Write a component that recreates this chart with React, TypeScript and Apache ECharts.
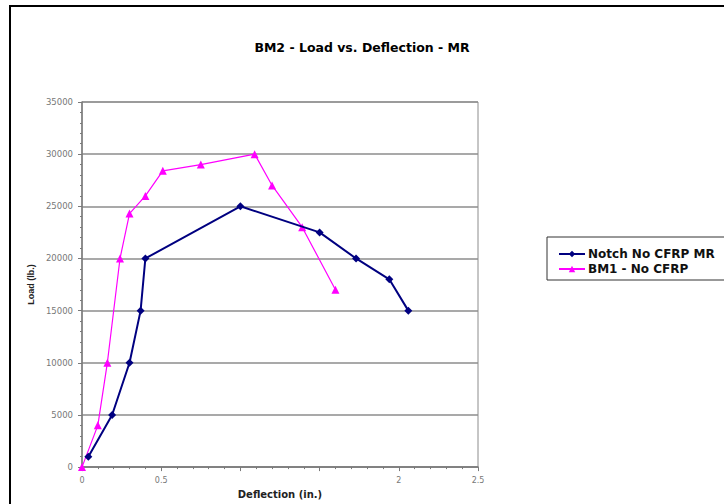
import React, { useEffect, useRef } from "react";
import * as echarts from "echarts";

const seriesNames = ["Notch No CFRP MR", "BM1 - No CFRP"];

// Notch No CFRP MR: deflection (in.), load (lb.)
const notchDeflection = [0.04, 0.19, 0.3, 0.37, 0.4, 1.0, 1.5, 1.73, 1.94, 2.06];
const notchLoad = [1000, 5000, 10000, 15000, 20000, 25000, 22500, 20000, 18000, 15000];

// BM1 - No CFRP
const bm1Deflection = [0, 0.1, 0.16, 0.24, 0.3, 0.4, 0.51, 0.75, 1.09, 1.2, 1.39, 1.6];
const bm1Load = [0, 4000, 10000, 20000, 24300, 26000, 28400, 29000, 30000, 27000, 23000, 17000];

const hiddenXLabels = [1, 1.5];

const FONT = "'DejaVu Sans', 'Liberation Sans', Arial, sans-serif";
const FONT_ARIAL = "'Liberation Sans', Arial, sans-serif";

export default function App() {
  const ref = useRef<HTMLDivElement>(null);

  useEffect(() => {
    if (!ref.current) return;
    const chart = echarts.init(ref.current, undefined, { renderer: "svg" });
    const pair = (xs: number[], ys: number[]) => xs.map((x, i) => [x, ys[i]]);
    chart.setOption({
      animation: false,
      backgroundColor: "#ffffff",
      title: {
        text: "BM2 - Load vs. Deflection - MR",
        left: "center",
        top: 36,
        textStyle: { fontFamily: FONT, fontWeight: "bold", fontSize: 12.5, color: "#000" },
      },
      grid: {
        left: 82,
        right: 246,
        top: 102,
        bottom: 29,
        show: true,
        borderColor: "#8c8c8c",
        borderWidth: 1,
      },
      xAxis: {
        type: "value",
        min: 0,
        max: 2.5,
        interval: 0.5,
        name: "Deflection (in.)",
        nameLocation: "middle",
        nameGap: 10,
        nameTextStyle: { fontFamily: FONT, fontWeight: "bold", fontSize: 10, color: "#222" },
        axisLine: { show: true, lineStyle: { color: "#7a7a7a", width: 1.5 } },
        axisTick: { show: true, inside: false, length: 4, lineStyle: { color: "#7a7a7a" } },
        minorTick: { show: true, splitNumber: 5, length: 2, lineStyle: { color: "#7a7a7a" } },
        splitLine: { show: false },
        axisLabel: {
          fontFamily: FONT,
          fontSize: 8,
          color: "#777",
          margin: 9,
          formatter: (v: number) => (hiddenXLabels.includes(v) ? "" : String(v)),
        },
      },
      yAxis: {
        type: "value",
        min: 0,
        max: 35000,
        interval: 5000,
        name: "Load (lb.)",
        nameLocation: "middle",
        nameGap: 44,
        nameTextStyle: { fontFamily: FONT_ARIAL, fontWeight: "bold", fontSize: 9, color: "#222" },
        axisLine: { show: true, lineStyle: { color: "#7a7a7a", width: 1.5 } },
        axisTick: { show: true, inside: false, length: 4, lineStyle: { color: "#7a7a7a" } },
        minorTick: { show: true, splitNumber: 5, length: 2, lineStyle: { color: "#7a7a7a" } },
        splitLine: { show: true, lineStyle: { color: "#8c8c8c", width: 1.5 } },
        axisLabel: {
          fontFamily: FONT,
          fontSize: 8.5,
          color: "#777",
          margin: 9,
          formatter: (v: number) => String(v),
        },
      },
      legend: {
        orient: "vertical",
        left: 553,
        top: 243,
        itemGap: 3,
        itemWidth: 26,
        itemHeight: 8,
        data: seriesNames,
        textStyle: { fontFamily: FONT, fontWeight: "bold", fontSize: 12, color: "#111", padding: [0, 0, 0, -2] },
      },
      graphic: [
        {
          type: "rect",
          shape: { x: 10, y: 6, width: 800, height: 600 },
          style: { fill: "none", stroke: "#000", lineWidth: 2 },
          silent: true,
        },
        {
          type: "rect",
          shape: { x: 547, y: 237, width: 200, height: 43 },
          style: { fill: "none", stroke: "#333", lineWidth: 1 },
          silent: true,
        },
      ],
      series: [
        {
          name: seriesNames[0],
          type: "line",
          data: pair(notchDeflection, notchLoad),
          symbol: "diamond",
          symbolSize: 8,
          color: "#000080",
          lineStyle: { color: "#000080", width: 2 },
          itemStyle: { color: "#000080" },
          z: 3,
        },
        {
          name: seriesNames[1],
          type: "line",
          data: pair(bm1Deflection, bm1Load),
          symbol: "triangle",
          symbolSize: 8,
          color: "#ff00ff",
          lineStyle: { color: "#ff00ff", width: 1.2 },
          itemStyle: { color: "#ff00ff" },
          z: 2,
        },
      ],
    });
    return () => chart.dispose();
  }, []);

  return (
    <div
      ref={ref}
      style={{ position: "fixed", left: 0, top: 0, width: 724, height: 504 }}
    />
  );
}
